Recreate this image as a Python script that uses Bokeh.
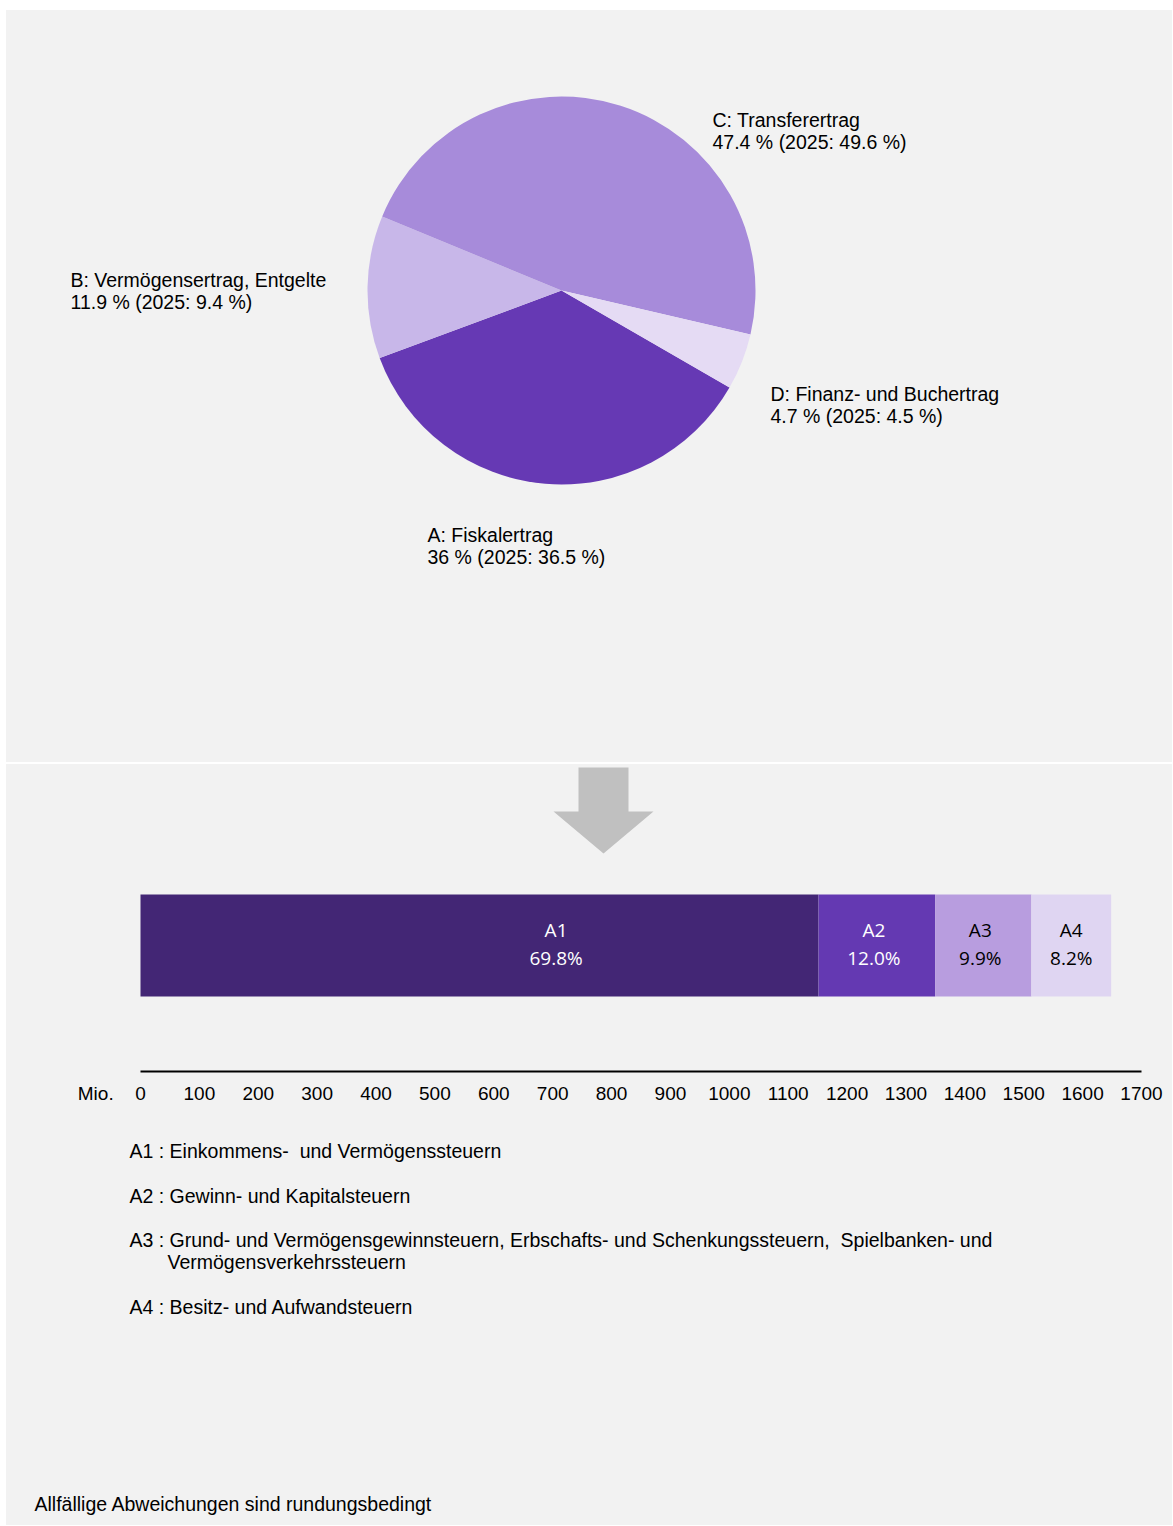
import math
from bokeh.plotting import figure
from bokeh.models import Range1d, FixedTicker, Spacer, ColumnDataSource, LinearAxis
from bokeh.layouts import column, row
from bokeh.embed import file_html
from bokeh.resources import INLINE
from bokeh.core.properties import value

# ---------------- data ----------------
pie_names = ["A: Fiskalertrag", "B: Vermögensertrag, Entgelte",
             "C: Transferertrag", "D: Finanz- und Buchertrag"]
pie_share = [36.0, 11.9, 47.4, 4.7]
pie_share_2025 = [36.5, 9.4, 49.6, 4.5]
pie_colors = ["#6639B4", "#C8B7E9", "#A78BDA", "#E5DBF4"]

bar_cats = ["A1", "A2", "A3", "A4"]
bar_values = [1151.5, 198.0, 163.5, 135.5]          # Mio.
bar_pct = ["69.8%", "12.0%", "9.9%", "8.2%"]
bar_colors = ["#432675", "#6439B2", "#B89DDF", "#DFD5F2"]
bar_text_colors = ["white", "white", "black", "black"]

x_ticks = list(range(0, 1800, 100))
unit_label = "Mio."

legend_lines = [
    "A1 : Einkommens-\u00a0 und Vermögenssteuern",
    "A2 : Gewinn- und Kapitalsteuern",
    "A3 : Grund- und Vermögensgewinnsteuern, Erbschafts- und Schenkungssteuern,\u00a0 Spielbanken- und",
    "Vermögensverkehrssteuern",
    "A4 : Besitz- und Aufwandsteuern",
]
footnote = "Allfällige Abweichungen sind rundungsbedingt"

# ---------------- styling ----------------
X0, X1 = 6, 1172          # page x extent of the grey panels
W = X1 - X0
BG = "#F2F2F2"
FONT = "Liberation Sans"
BAR_FONT = "Open Sans"
FS = "19.5px"


def base(fig):
    fig.grid.visible = False
    fig.outline_line_color = None
    fig.background_fill_color = BG
    fig.border_fill_color = BG
    fig.styles = {"background-color": BG}
    return fig


# ---------------- top: pie (page y 10..762) ----------------
T1, B1 = 10, 762
p1 = figure(width=W, height=B1 - T1, x_range=Range1d(X0, X1), y_range=Range1d(-B1, -T1),
            output_backend="svg", toolbar_location=None, min_border=0,
            x_axis_location=None, y_axis_location=None)
base(p1)

CX, CY, R = 561, 290, 194
start0 = 330.0
starts, ends, cum = [], [], 0.0
for s in pie_share:
    ends.append(math.radians(start0 - cum * 3.6))
    cum += s
    starts.append(math.radians(start0 - cum * 3.6))

src = ColumnDataSource(dict(start=starts, end=ends, color=pie_colors))
p1.wedge(x=CX, y=-CY, radius=R, start_angle="start", end_angle="end",
         fill_color="color", line_color=None, source=src)

lab_x = [427, 70, 712, 770]
lab_y = [534, 279, 119, 393]
line2 = [f"{a:g} % (2025: {b:g} %)" for a, b in zip(pie_share, pie_share_2025)]
p1.text(x=lab_x, y=[-y for y in lab_y], text=pie_names, text_font=value(FONT),
        text_font_size=FS, text_baseline="middle", text_color="black")
p1.text(x=lab_x, y=[-(y + 22) for y in lab_y], text=line2, text_font=value(FONT),
        text_font_size=FS, text_baseline="middle", text_color="black")

# ---------------- middle: stacked bar (page y 764..1110) ----------------
T2, AX, B2 = 764, 1071, 1110
PX0, PX1, VMAX = 140, 1141, 1700      # axis 0..1700 spans page x 140..1141
k = VMAX / (PX1 - PX0)
p2 = figure(width=W, height=B2 - T2,
            x_range=Range1d((X0 - PX0) * k, (X1 - PX0) * k),
            y_range=Range1d(-AX, -(T2 + 2)),
            output_backend="svg", toolbar_location=None,
            min_border_left=0, min_border_right=0, min_border_top=2,
            min_border_bottom=B2 - AX,
            y_axis_location=None, x_axis_location="below")
base(p2)
p2.extra_x_ranges = {"px": Range1d(X0, X1)}

# arrow
ax = [578, 628, 628, 653, 603, 553, 578]
ay = [767, 767, 811, 811, 853, 811, 811]
p2.patch(x=ax, y=[-v for v in ay], x_range_name="px", fill_color="#C0C0C0", line_color=None)

lefts, rights, c = [], [], 0.0
for v in bar_values:
    lefts.append(c)
    c += v
    rights.append(c)
p2.hbar(y=-945, height=102, left=lefts, right=rights, fill_color=bar_colors, line_color=None)

offsets = [130, -5, -5, 0]
tx = [(l + r) / 2 + o for l, r, o in zip(lefts, rights, offsets)]
p2.text(x=tx, y=-929, text=bar_cats, text_font=value(BAR_FONT),
        text_font_size="19px", text_align="center", text_baseline="middle", text_color=bar_text_colors)
p2.text(x=tx, y=-957, text=bar_pct, text_font=value(BAR_FONT),
        text_font_size="19px", text_align="center", text_baseline="middle", text_color=bar_text_colors)

# axis line (nearest the frame), limited to 0..1700
xa = p2.xaxis[0]
xa.ticker = FixedTicker(ticks=[])
xa.bounds = (0, VMAX)
xa.major_tick_line_color = None
xa.minor_tick_line_color = None
xa.major_tick_out = 0
xa.major_tick_in = 0
xa.major_label_standoff = 0
xa.axis_line_width = 2
xa.axis_line_color = "black"

# tick labels (with unit label on the left)
mio_pos = -76
lab_axis = LinearAxis(ticker=FixedTicker(ticks=[mio_pos] + x_ticks),
                      major_label_overrides={mio_pos: unit_label},
                      axis_line_color=None, major_tick_line_color=None,
                      minor_tick_line_color=None, major_tick_out=0, major_tick_in=0,
                      major_label_standoff=11,
                      major_label_text_font=FONT, major_label_text_font_size="19px",
                      major_label_text_color="black")
p2.add_layout(lab_axis, "below")

# ---------------- bottom: legend and footnote (page y 1110..1525) ----------------
T3, B3 = 1110, 1525
p3 = figure(width=W, height=B3 - T3, x_range=Range1d(X0, X1), y_range=Range1d(-B3, -T3),
            output_backend="svg", toolbar_location=None, min_border=0,
            x_axis_location=None, y_axis_location=None)
base(p3)
leg_x = [129, 129, 129, 167, 129]
leg_y = [1150, 1195, 1239, 1261, 1306]
p3.text(x=leg_x, y=[-v for v in leg_y], text=legend_lines, text_font=value(FONT),
        text_font_size=FS, text_baseline="middle", text_color="black")
p3.text(x=[34], y=[-1503], text=[footnote], text_font=value(FONT),
        text_font_size=FS, text_baseline="middle", text_color="black")

panels = column(p1, Spacer(width=W, height=2), p2, p3, spacing=0)
layout = column(Spacer(width=W + X0, height=T1), row(Spacer(width=X0, height=10), panels, spacing=0), spacing=0)
open("out.html", "w").write(file_html(layout, INLINE))
